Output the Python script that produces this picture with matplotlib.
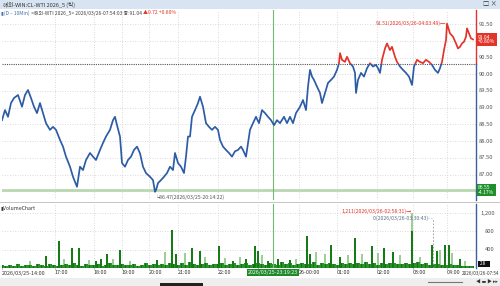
import numpy as np
import matplotlib.pyplot as plt
from matplotlib.patches import Rectangle
from matplotlib.text import Annotation
import matplotlib.transforms as mtransforms

plt.rcParams['font.family'] = ['Noto Sans CJK KR', 'DejaVu Sans']

# price trace: bar position / price
bar_pos = [2, 5, 8, 11, 14, 18, 22, 25, 28, 31, 34, 37, 40, 43, 46, 50, 53, 56, 60, 63,
           66, 70, 73, 77, 80, 83, 86, 90, 93, 96, 100, 103, 106, 110, 113, 115, 117, 120, 122, 125,
           128, 131, 134, 137, 140, 143, 146, 150, 153, 155, 156, 158, 161, 164, 167, 170, 173, 175, 178, 181,
           184, 186, 188, 190, 192, 195, 198, 200, 203, 206, 209, 212, 215, 218, 220, 223, 226, 229, 232, 235,
           238, 241, 243, 246, 248, 250, 253, 256, 259, 262, 265, 268, 271, 274, 277, 280, 284, 287, 290, 293,
           296, 300, 303, 306, 308, 310, 312, 314, 317, 320, 322, 325, 328, 331, 334, 337, 339, 340, 342, 345,
           347, 350, 353, 355, 356, 358, 361, 364, 367, 370, 373, 376, 378, 380, 382, 385, 387, 390, 392, 395,
           397, 400, 403, 406, 409, 412, 414, 417, 420, 423, 426, 429, 432, 435, 438, 440, 442, 444, 446, 447,
           450, 453, 456, 458, 460, 462, 464, 466, 467, 469, 471, 473]
price = [88.63, 88.93, 88.73, 89.14, 89.29, 89.38, 89.03, 89.38, 89.53, 89.29, 89.03, 88.84, 89.14, 88.84, 88.54, 88.34, 88.43, 88.34, 88.04, 87.84,
         87.54, 87.24, 86.94, 86.64, 87.24, 87.14, 87.44, 87.65, 87.54, 87.44, 87.74, 87.95, 88.14, 88.34, 88.63, 88.73, 88.48, 88.14, 87.35, 87.24,
         87.44, 87.54, 87.74, 87.84, 87.64, 87.24, 87.05, 86.94, 86.84, 86.49, 86.54, 86.75, 86.84, 86.94, 87.05, 87.24, 87.14, 87.65, 87.35, 87.24,
         87.05, 87.54, 88.14, 88.14, 88.73, 88.93, 89.14, 89.33, 89.03, 88.54, 88.43, 88.34, 88.43, 88.34, 88.04, 87.84, 87.74, 87.65, 87.54, 87.70,
         87.74, 87.84, 87.74, 87.54, 87.95, 88.34, 88.54, 88.73, 88.54, 88.93, 88.84, 88.73, 88.63, 88.48, 88.63, 88.54, 88.73, 88.54, 88.73, 88.54,
         88.84, 89.03, 89.23, 88.93, 89.63, 90.13, 89.93, 89.83, 89.63, 89.44, 89.14, 89.44, 89.74, 89.83, 89.93, 90.13, 90.33, 90.63, 90.43, 90.37,
         90.52, 90.33, 90.23, 90.04, 89.44, 89.83, 90.04, 89.93, 90.18, 90.33, 90.23, 90.28, 90.18, 90.04, 90.43, 90.77, 90.92, 90.72, 90.82, 90.52,
         90.37, 90.23, 90.13, 90.04, 89.93, 89.68, 90.23, 90.43, 90.37, 90.33, 90.43, 90.37, 90.28, 90.13, 90.04, 90.18, 90.37, 90.72, 91.02, 91.51,
         91.22, 91.12, 90.92, 90.77, 90.82, 90.92, 90.97, 91.12, 91.37, 91.22, 91.07, 91.04]
prev_close = 90.32
last_price = 91.04
low_mark = 86.55
price_ticks = [87.0, 87.5, 88.0, 88.5, 89.0, 89.5, 90.0, 90.5, 91.5]   # 91.00 / 86.50 hidden by boxes

# volume
base_pos = list(range(2, 475, 4))
base_vol = [60, 40, 75, 50, 90, 45, 70, 55, 40, 85, 60, 50, 95, 70, 45, 60, 80, 55, 110, 65,
            50, 90, 70, 60, 85, 45, 75, 100, 60, 55, 80, 70, 65, 90, 50, 75, 120, 60, 85, 70,
            95, 55, 110, 80, 65, 100, 75, 130, 90, 70, 85, 105, 60, 95, 80, 120, 70, 90, 110, 75,
            85, 100, 65, 95, 120, 80, 70, 110, 90, 75, 130, 85, 100, 70, 95, 115, 80, 90, 125, 75,
            100, 85, 110, 95, 70, 120, 90, 105, 80, 115, 95, 130, 85, 100, 75, 110, 90, 120, 100, 85,
            95, 115, 80, 105, 130, 90, 110, 75, 95, 85, 70, 60, 80, 55, 65, 50, 45, 40, 35]
spike_pos = [46, 59, 72, 79, 96, 101, 107, 120, 157, 172, 176, 192, 200, 219, 233, 246, 255, 258,
             268, 278, 290, 307, 310, 331, 340, 355, 372, 384, 393, 412, 432, 437, 445, 449, 460]
spike_vol = [260, 600, 440, 440, 160, 200, 300, 390, 170, 840, 300, 440, 370, 480, 150, 200, 480, 370,
             160, 200, 180, 700, 300, 510, 250, 650, 480, 430, 350, 800, 510, 370, 510, 510, 200]
light_pos = [30, 64, 89, 113, 130, 165, 185, 205, 225, 240, 262, 296, 316, 325, 348, 362, 378,
             400, 412, 420, 440, 452, 465]
light_vol = [150, 200, 180, 200, 160, 350, 330, 250, 220, 250, 280, 200, 350, 300, 280, 300, 330,
             280, 1211, 250, 400, 330, 150]

tick_pos = [2, 55, 94, 122, 149, 178, 218, 258, 299, 337, 377, 413, 447]
tick_lab = ['2026/03/25-14:00', '17:00', '18:00', '19:00', '20:00', '21:00', '22:00', '',
            '26-00:00', '01:00', '02:00', '03:00', '04:00']
cursor_pos = 273

BLUE = '#2d5ca6'
RED = '#e3342a'
GRID = '#cfcfcf'
TXT = '#555555'

fig = plt.figure(figsize=(5, 2.86), dpi=100)
W, H = 500.0, 286.0

# title bar
fig.patches.append(Rectangle((0, 1 - 9 / H), 1, 9 / H, transform=fig.transFigure,
                             facecolor='#d9e4f2', edgecolor='none'))
fig.text(3 / W, 1 - 4.5 / H, '해외-WIN:CL-WTI 2026_5 (틱)', fontsize=4.0, va='center', color='#333')
fig.text(497 / W, 1 - 4.5 / H, '□ ×', fontsize=4.5, va='center', ha='right', color='#333')

# legend line, pieces chained one after the other
t1 = fig.text(1 / W, 1 - 13 / H, '▮(D – 10Min)', fontsize=3.6, va='center', color='#4a6fb0')
a2 = Annotation(' <해외-WTI 2026_5> 2026/03/26-07:54:03 종:91.04 ', xy=(1, 0.5), xycoords=t1,
                va='center', ha='left', fontsize=3.6, color='#444', annotation_clip=False)
fig.add_artist(a2)
a3 = Annotation('▲0.72 +0.80%', xy=(1, 0.5), xycoords=a2, va='center', ha='left',
                fontsize=3.6, color=RED, annotation_clip=False)
fig.add_artist(a3)

ax = fig.add_axes([2 / W, 1 - 200 / H, 474 / W, 190 / H])
vax = fig.add_axes([2 / W, 1 - 268 / H, 474 / W, 64 / H])

ax.set_xlim(2, 476)
ax.set_ylim(86.246, 91.918)
for v in np.arange(86.5, 91.51, 0.5):
    ax.axhline(v, color=GRID, lw=0.6, ls=(0, (1, 2)), zorder=0)
for p in tick_pos[1:]:
    ax.axvline(p, color=GRID, lw=0.6, ls=(0, (1, 2)), zorder=0)
    vax.axvline(p, color=GRID, lw=0.6, ls=(0, (1, 2)), zorder=0)

ax.axhline(low_mark, color='#b9d8b1', lw=2, zorder=1)
ax.axhline(prev_close, color='#555555', lw=0.8, ls=(0, (1, 1)), zorder=2)
ax.axvline(cursor_pos, color='#74b874', lw=0.8, zorder=2)

# price line, red above previous close, blue below
lb, = ax.plot(bar_pos, price, color=BLUE, lw=1.25, zorder=3)
lr, = ax.plot(bar_pos, price, color=RED, lw=1.25, zorder=3)
lb.set_clip_path(Rectangle((2, 80), 480, prev_close - 80, transform=ax.transData))
lr.set_clip_path(Rectangle((2, prev_close), 480, 20, transform=ax.transData))

for s in ['left', 'top', 'bottom', 'right']:
    ax.spines[s].set_visible(False)
ax.set_xticks([])
ax.set_yticks([])
tr = mtransforms.blended_transform_factory(ax.transAxes, ax.transData)
ax.plot([1.0, 1.0], [prev_close, 91.918], color=RED, lw=1, transform=tr, clip_on=False)
ax.plot([1.0, 1.0], [86.246, prev_close], color='#3d5f9c', lw=1, transform=tr, clip_on=False)
for v in price_ticks:
    ax.text(1.006, v, f'{v:.2f}', transform=tr, fontsize=4.2, color=TXT, va='center', ha='left')
ax.text(1.0045, last_price, '91.04\n+0.80%', transform=tr, fontsize=3.6, color='white',
        va='center', ha='left', linespacing=0.95,
        bbox=dict(boxstyle='square,pad=0.25', facecolor=RED, edgecolor='none'))
ax.text(1.0045, low_mark, '86.55\n-4.17%', transform=tr, fontsize=3.6, color='white',
        va='center', ha='left', linespacing=0.95,
        bbox=dict(boxstyle='square,pad=0.25', facecolor='#1f8f2a', edgecolor='none'))

ax.annotate('91.51(2026/03/26-04:03:49)─', xy=(447, 91.51), xytext=(-1, 0),
            textcoords='offset points', fontsize=3.7, color=RED, ha='right', va='center')
ax.annotate('└86.47(2026/03/25-20:14:22)', xy=(155, 86.49), xytext=(0, -4),
            textcoords='offset points', fontsize=3.7, color=TXT, ha='left', va='center')

# volume panel
vax.set_xlim(2, 476)
vax.set_ylim(0, 1400)
for v in [400, 800, 1200]:
    vax.axhline(v, color=GRID, lw=0.6, ls=(0, (1, 2)), zorder=0)
vax.bar(light_pos, light_vol, width=1.2, color='#9ccf96', zorder=1)
vax.fill_between(base_pos, base_vol, step='mid', color='#2a922a', lw=0, zorder=2)
vax.bar(base_pos, base_vol, width=1.0, color='#137013', zorder=2)
vax.bar(spike_pos, spike_vol, width=1.1, color='#167a16', zorder=3)
vax.axvline(cursor_pos, color='#74b874', lw=0.8, zorder=2)
vax.plot([433, 433], [0, 1080], color='#999', lw=0.6, ls=(0, (2, 2)))
vax.text(412, 1250, '1,211(2026/03/26-02:58:31)→', fontsize=3.7, color=RED, ha='right', va='center')
vax.text(433, 1080, '0(2026/03/26-03:30:43)- -', fontsize=3.7, color='#5a6f8a', ha='right', va='center')
vax.text(1, 1330, '▮VolumeChart', fontsize=3.8, color='#333', ha='left', va='center')

for s in ['left', 'top', 'bottom']:
    vax.spines[s].set_visible(False)
vax.spines['right'].set_color('#3d5f9c')
vax.spines['right'].set_linewidth(1)
vax.set_yticks([])
vtr = mtransforms.blended_transform_factory(vax.transAxes, vax.transData)
for v, lab in [(1200, '1,200'), (800, '800'), (400, '400')]:
    vax.text(1.04, v, lab, transform=vtr, fontsize=4.2, color=TXT, ha='right', va='center')
vax.text(1.006, 90, ' 28    ', transform=vtr, fontsize=3.4, color='white', ha='left', va='center',
         bbox=dict(boxstyle='square,pad=0.15', facecolor='#111', edgecolor='none'))

vax.set_xticks(tick_pos)
vax.set_xticklabels(tick_lab, fontsize=3.9, color='#333', ha='left')
vax.tick_params(axis='x', length=1, pad=0.8, color='#888')
vax.text(cursor_pos, -0.03, '2026/03/25-23:19:23', transform=mtransforms.blended_transform_factory(
    vax.transData, vax.transAxes), fontsize=3.8, color='white', ha='center', va='top',
    bbox=dict(boxstyle='square,pad=0.2', facecolor='#1f8a2a', edgecolor='none'))
fig.text(499.5 / W, 1 - 273 / H, '2026/03/26-07:54', fontsize=3.3, color='#333', ha='right', va='center')

# separators and scrollbar
fig.add_artist(plt.Line2D([0, 1], [1 - 202 / H, 1 - 202 / H], color='#bbbbbb', lw=0.6))
fig.patches.append(Rectangle((0, 0), 1, 8 / H, transform=fig.transFigure,
                             facecolor='#eeeeee', edgecolor='none'))
fig.patches.append(Rectangle((160 / W, 0), 43 / W, 3 / H, transform=fig.transFigure,
                             facecolor='#222222', edgecolor='none'))
fig.add_artist(plt.Line2D([428 / W, 462 / W], [4 / H, 4 / H], color='#777', lw=0.8))
fig.text(498 / W, 4 / H, '◀ ▬ ▶ ▸▸', fontsize=3.4, color='#333', ha='right', va='center')

fig.savefig('out.png', dpi=100)
